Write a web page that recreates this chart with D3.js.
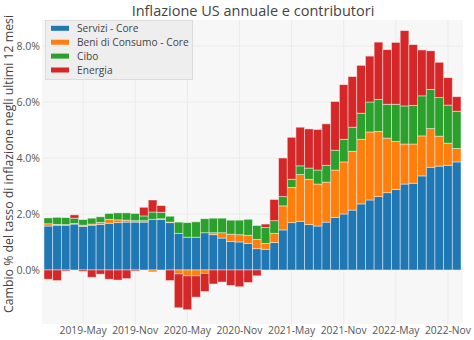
<!DOCTYPE html>
<html><head><meta charset="utf-8">
<script src="https://cdn.jsdelivr.net/npm/d3@7"></script>
<style>body{margin:0;background:#fff}svg{display:block}</style>
</head><body><svg id="c" width="474" height="340"></svg>
<script>
const months = ["2019-01","2019-02","2019-03","2019-04","2019-05","2019-06","2019-07","2019-08","2019-09","2019-10","2019-11","2019-12",
"2020-01","2020-02","2020-03","2020-04","2020-05","2020-06","2020-07","2020-08","2020-09","2020-10","2020-11","2020-12",
"2021-01","2021-02","2021-03","2021-04","2021-05","2021-06","2021-07","2021-08","2021-09","2021-10","2021-11","2021-12",
"2022-01","2022-02","2022-03","2022-04","2022-05","2022-06","2022-07","2022-08","2022-09","2022-10","2022-11","2022-12"];
const servizi = [1.57,1.60,1.60,1.64,1.56,1.60,1.63,1.67,1.69,1.71,1.71,1.71,
1.81,1.81,1.69,1.31,1.17,1.17,1.33,1.26,1.14,1.02,1.00,0.95,
0.76,0.74,0.98,1.43,1.69,1.74,1.62,1.57,1.71,1.88,2.00,2.14,
2.36,2.50,2.62,2.76,2.88,3.07,3.10,3.36,3.67,3.71,3.74,3.86];
const beni = [0.08,0.03,0.02,0.02,0.04,0.04,0.07,0.14,0.10,0.07,0.05,0.05,
-0.07,0.02,0.02,-0.14,-0.21,-0.21,-0.12,0.07,0.19,0.26,0.26,0.29,
0.33,0.21,0.33,0.86,1.26,1.67,1.62,1.50,1.43,1.69,1.86,2.10,
2.31,2.43,2.33,1.95,1.71,1.43,1.40,1.43,1.38,1.07,0.79,0.48];
const cibo = [0.21,0.25,0.25,0.19,0.20,0.21,0.20,0.21,0.25,0.26,0.26,0.17,
0.26,0.23,0.21,0.40,0.52,0.55,0.50,0.52,0.52,0.50,0.52,0.57,
0.50,0.57,0.45,0.33,0.29,0.31,0.40,0.50,0.60,0.71,0.81,0.86,
0.93,1.07,1.14,1.21,1.33,1.36,1.38,1.43,1.40,1.38,1.36,1.33];
const energia = [-0.33,-0.38,-0.04,0.12,-0.05,-0.26,-0.15,-0.33,-0.36,-0.31,-0.04,0.31,
0.43,0.24,-0.38,-1.21,-1.21,-0.76,-0.65,-0.50,-0.43,-0.55,-0.60,-0.45,
-0.21,0.12,0.76,1.38,1.50,1.38,1.40,1.45,1.48,1.74,1.95,1.81,
1.71,1.64,2.05,1.95,2.21,2.69,2.17,1.64,1.38,1.26,0.98,0.52];
const seriesNames = ["Servizi - Core","Beni di Consumo - Core","Cibo","Energia"];
const seriesColors = ["#1f77b4","#ff7f0e","#2ca02c","#d62728"];
const yTicks = [0,2,4,6,8];
const xTickMonths = ["2019-05","2019-11","2020-05","2020-11","2021-05","2021-11","2022-05","2022-11"];
const xTickLabels = ["2019-May","2019-Nov","2020-May","2020-Nov","2021-May","2021-Nov","2022-May","2022-Nov"];
const titleText = "Inflazione US annuale e contributori";
const yTitle = "Cambio % del tasso di inflazione negli ultimi 12 mesi";

const svg = d3.select("#c");
const font = "'Open Sans', sans-serif";
const L = 42, R = 463, T = 20, B = 324;

const rows = months.map((m,i)=>({month:m, s0:servizi[i], s1:beni[i], s2:cibo[i], s3:energia[i]}));
const keys = ["s0","s1","s2","s3"];
const stacked = d3.stack().keys(keys).offset(d3.stackOffsetDiverging)(rows);

const x = d3.scaleBand().domain(months).range([L+2, R-2]).paddingInner(0).paddingOuter(0);
const y = d3.scaleLinear().domain([-1.93, 8.93]).range([B, T]);

svg.append("rect").attr("x",L).attr("y",T).attr("width",R-L).attr("height",B-T).attr("fill","#f7f7f7");

// gridlines
svg.append("g").selectAll("line").data(yTicks).join("line")
  .attr("x1",L).attr("x2",R).attr("y1",d=>y(d)).attr("y2",d=>y(d))
  .attr("stroke","#ebebeb").attr("stroke-width",1);
svg.append("g").selectAll("line").data(xTickMonths).join("line")
  .attr("x1",d=>x(d)+x.bandwidth()/2).attr("x2",d=>x(d)+x.bandwidth()/2)
  .attr("y1",T).attr("y2",B).attr("stroke","#ebebeb").attr("stroke-width",1);

// bars
svg.append("g").selectAll("g").data(stacked).join("g")
  .attr("fill",(d,i)=>seriesColors[i])
  .selectAll("rect").data(d=>d).join("rect")
  .attr("x",d=>x(d.data.month))
  .attr("width",x.bandwidth())
  .attr("y",d=>y(Math.max(d[0],d[1])))
  .attr("height",d=>Math.abs(y(d[0])-y(d[1])))
  .attr("stroke","rgba(255,255,255,0.55)").attr("stroke-width",0.8);

// y axis labels
const yAxis = d3.axisLeft(y).tickValues(yTicks).tickFormat(d=>d3.format(".1f")(d)+"%").tickSize(0).tickPadding(2);
const ga = svg.append("g").attr("transform",`translate(${L},0)`).call(yAxis);
ga.select(".domain").remove();
ga.selectAll("text").attr("font-family",font).attr("font-size",10.5).attr("fill","#555");

// x axis labels
const xAxis = d3.axisBottom(x).tickValues(xTickMonths).tickFormat((d,i)=>xTickLabels[i]).tickSize(0).tickPadding(2);
const gx = svg.append("g").attr("transform",`translate(0,${B+1})`).call(xAxis);
gx.select(".domain").remove();
gx.selectAll("text").attr("font-family",font).attr("font-size",10.3).attr("fill","#555");

// title
svg.append("text").attr("x",253).attr("y",16).attr("text-anchor","middle")
  .attr("font-family",font).attr("font-size",14.5).attr("fill","#444").text(titleText);

// y title
svg.append("text").attr("transform",`translate(13,${(T+B)/2-8}) rotate(-90)`).attr("text-anchor","middle")
  .attr("font-family",font).attr("font-size",12.3).attr("fill","#444").text(yTitle);

// legend
const lg = svg.append("g");
lg.append("rect").attr("x",45.5).attr("y",20.5).attr("width",147).attr("height",59)
  .attr("fill","#eeeeee").attr("stroke","#dcdcdc").attr("stroke-width",1);
seriesNames.forEach((n,i)=>{
  const cy = 28.3 + i*13.9;
  lg.append("rect").attr("x",51).attr("y",cy-2.5).attr("width",18).attr("height",5).attr("fill",seriesColors[i]);
  lg.append("text").attr("x",77).attr("y",cy).attr("dy","0.35em")
    .attr("font-family",font).attr("font-size",10.2).attr("fill","#444").text(n);
});
</script>
</body></html>
